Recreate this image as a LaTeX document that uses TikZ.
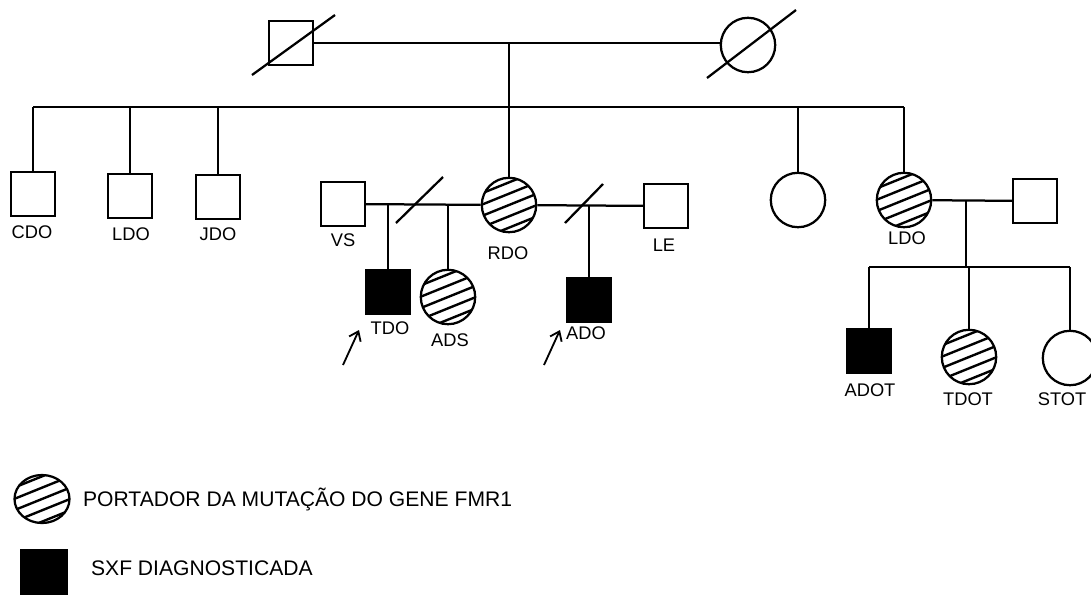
\documentclass[tikz,border=0pt]{standalone}
\usepackage{fontspec}
\setmainfont{Liberation Sans}
\usetikzlibrary{arrows.meta,shapes.geometric,calc}
\begin{document}
\begin{tikzpicture}[
	x=0.025cm, y=-0.025cm, line width=1.6pt,
	hatch/.style={ path picture={
		\foreach \k in {-3,...,3}
			\draw[line width=1.7pt]
			($(path picture bounding box.center)+(-37.1+3.94*\k,15+9.73*\k)$) --
			($(path picture bounding box.center)+(37.1+3.94*\k,-15+9.73*\k)$);
		} },
	indm/.style={ rectangle, draw, inner sep=0pt, minimum size=1.1cm },
	indmf/.style={ rectangle, draw, fill, inner sep=0pt, minimum size=1.1cm },
	indf/.style={ circle, draw, inner sep=0pt, minimum size=1.36cm },
	indfh/.style={ circle, draw, inner sep=0pt, minimum size=1.36cm, hatch },
	lbl/.style={ font=\fontsize{13}{14}\selectfont },
	leg/.style={ font=\fontsize{15}{18}\selectfont, anchor=west, inner sep=0pt }
]
\useasboundingbox (0,0) rectangle (1091,594);

% first generation
\node[indm] at (291,43) (gf) {};
\node[indf] at (748,45) (gm) {};
\draw (gf.east) -- (gf.east -| gm.west);
\draw (252,75) -- (335,15);
\draw (707,78) -- (796,10);
\coordinate (s1) at (509,107);

% second generation
\node[indm] at (33,194) (cdo) {};
\node[indm] at (130,196) (ldo) {};
\node[indm] at (218,197) (jdo) {};
\node[indfh] at (509,205) (rdo) {};
\node[indf] at (798,200) (f5) {};
\node[indfh] at (904,200) (ldof) {};
\draw (cdo.north |- s1) -- (ldof.north |- s1);
\draw (rdo.north) -- (rdo.north |- gf);
\foreach \n in {cdo,ldo,jdo,f5,ldof} \draw (\n.north) -- (\n.north |- s1);
\node[lbl] at (32,232) (cdol) {CDO};
\node[lbl] at (131,234) (ldol) {LDO};
\node[lbl] at (218,234) (jdol) {JDO};
\node[lbl] at (508,253) (rdol) {RDO};
\node[lbl] at (907,238) (ldofl) {LDO};

% partners of RDO
\node[indm] at (343,204) (vs) {};
\node[indm] at (666,206) (le) {};
\draw (vs) -- (rdo);
\draw (rdo) -- (le);
\draw (396,223) -- (443,177);
\draw (565,223) -- (603,184);
\node[lbl] at (343,240) (vsl) {VS};
\node[lbl] at (664,245) (lel) {LE};

% third generation, left
\node[indmf] at (388,292) (tdo) {};
\node[indfh] at (448,297) (ads) {};
\node[indmf] at (589,300) (ado) {};
\draw (tdo.north) -- (tdo.north |- vs);
\draw (ads.north) -- (ads.north |- vs);
\draw (ado.north) -- (ado.north |- le);
\node[lbl] at (390,328) (tdol) {TDO};
\node[lbl] at (450,340) (adsl) {ADS};
\node[lbl] at (586,333) (adol) {ADO};
\coordinate (p1s) at (343,365);
\coordinate (p1e) at (359,330);
\coordinate (p2s) at (544,365);
\coordinate (p2e) at (560,330);
\draw[-{Straight Barb[length=6pt,width=9pt]}, line width=1.3pt] (p1s) -- (p1e);
\draw[-{Straight Barb[length=6pt,width=9pt]}, line width=1.3pt] (p2s) -- (p2e);

% third generation, right
\node[indm] at (1035,201) (h6) {};
\draw (ldof) -- (h6);
\coordinate (s6) at (966,267);
\draw (s6) -- (s6 |- ldof);
\node[indmf] at (869,351) (adot) {};
\node[indfh] at (969,357) (tdot) {};
\node[indf] at (1070,358) (stot) {};
\draw (adot.north |- s6) -- (stot.north |- s6);
\foreach \n in {adot,tdot,stot} \draw (\n.north) -- (\n.north |- s6);
\node[lbl] at (870,390) (adotl) {ADOT};
\node[lbl] at (968,399) (tdotl) {TDOT};
\node[lbl] at (1062,399) (stotl) {STOT};

% legend
\node[ellipse, draw, hatch, inner sep=0pt, minimum width=1.375cm, minimum height=1.2cm] at (42,499) (legh) {};
\node[leg] at (82,499) (leght) {PORTADOR DA MUTAÇÃO DO GENE FMR1};
\node[indmf, minimum width=1.15cm, minimum height=1.15cm] at (44,573) (legf) {};
\node[leg] at (90,568) (legft) {SXF DIAGNOSTICADA};

\end{tikzpicture}
\end{document}
